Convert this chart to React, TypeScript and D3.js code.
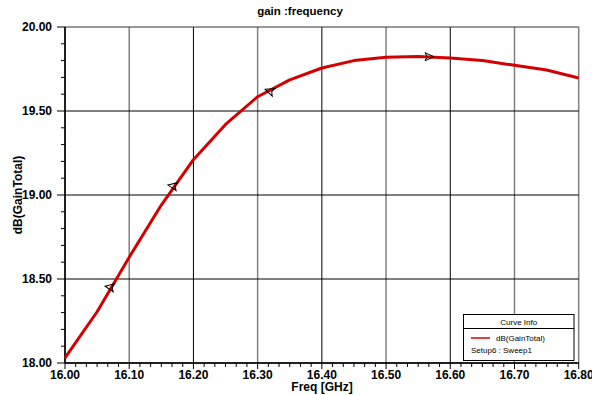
import React from "react";
import * as d3 from "d3";

// Swept gain curve: dB(GainTotal) vs frequency
const freqGHz = [16.0, 16.05, 16.1, 16.15, 16.2, 16.25, 16.3, 16.35, 16.4, 16.45, 16.5, 16.55, 16.6, 16.65, 16.7, 16.75, 16.8];
const gainDb = [18.03, 18.305, 18.63, 18.94, 19.21, 19.42, 19.585, 19.685, 19.756, 19.8, 19.82, 19.825, 19.815, 19.8, 19.772, 19.744, 19.696];

// Curve markers (frequency, value, direction in degrees)
const markerFreq = [16.07, 16.168, 16.319, 16.567];
const markerGain = [18.452, 19.054, 19.619, 19.823];
const markerAngle = [190, 190, 200, 0];

const xTicks = [16.0, 16.1, 16.2, 16.3, 16.4, 16.5, 16.6, 16.7, 16.8];
const yTicks = [18.0, 18.5, 19.0, 19.5, 20.0];

const W = 592;
const H = 395;
const left = 65;
const right = 578.7;
const top = 27;
const bottom = 363;

export default function App() {
  const x = d3.scaleLinear().domain([16.0, 16.8]).range([left, right]);
  const y = d3.scaleLinear().domain([18.0, 20.0]).range([bottom, top]);

  const line = d3
    .line<number>()
    .x((_, i) => x(freqGHz[i]))
    .y((d) => y(d))
    .curve(d3.curveLinear);

  const xMinor: number[] = [];
  for (let i = 0; i < xTicks.length - 1; i++) {
    for (let k = 1; k < 6; k++) xMinor.push(xTicks[i] + (k * 0.1) / 6);
  }
  const yMinor: number[] = [];
  for (let i = 0; i < yTicks.length - 1; i++) {
    for (let k = 1; k < 5; k++) yMinor.push(yTicks[i] + (k * 0.5) / 5);
  }

  const font = "'Liberation Sans', Arial, Helvetica, sans-serif";

  return (
    <svg
      width={W}
      height={H}
      style={{ position: "absolute", left: 0, top: 0, background: "#fff" }}
      fontFamily={font}
    >
      <rect x={0} y={0} width={W} height={H} fill="#fff" />

      {/* vertical grid lines */}
      {xTicks.map((t, i) => (
        <line
          key={"gx" + i}
          x1={x(t)}
          x2={x(t)}
          y1={top}
          y2={bottom}
          stroke={i === 0 ? "#000" : i % 2 === 1 || i === xTicks.length - 1 ? "#808080" : "#000"}
          strokeWidth={i % 2 === 1 || i === xTicks.length - 1 ? 1.5 : 1}
        />
      ))}
      {/* horizontal grid lines */}
      {yTicks.map((t, i) => (
        <line key={"gy" + i} x1={left} x2={right} y1={y(t)} y2={y(t)} stroke={i === yTicks.length - 1 ? "#333" : "#000"} strokeWidth={1} />
      ))}

      {/* axes */}
      <line x1={left} x2={left} y1={top} y2={bottom} stroke="#000" strokeWidth={1.5} />
      <line x1={left} x2={right} y1={bottom} y2={bottom} stroke="#000" strokeWidth={1.5} />

      {/* y ticks */}
      {yTicks.map((t, i) => (
        <line key={"ytm" + i} x1={left - 8} x2={left} y1={y(t)} y2={y(t)} stroke="#000" strokeWidth={1} />
      ))}
      {yMinor.map((t, i) => (
        <line key={"ytn" + i} x1={left - 4} x2={left} y1={y(t)} y2={y(t)} stroke="#000" strokeWidth={1} />
      ))}
      {yTicks.map((t, i) => (
        <text key={"ytl" + i} x={52} y={y(t)} dy="0.36em" textAnchor="end" fontSize={12} fontWeight="bold" fill="#000">
          {t.toFixed(2)}
        </text>
      ))}

      {/* x ticks */}
      {xTicks.map((t, i) => (
        <line key={"xtm" + i} x1={x(t)} x2={x(t)} y1={bottom} y2={bottom + 6} stroke="#000" strokeWidth={1} />
      ))}
      {xMinor.map((t, i) => (
        <line key={"xtn" + i} x1={x(t)} x2={x(t)} y1={bottom} y2={bottom + 4} stroke="#000" strokeWidth={1} />
      ))}
      {xTicks.map((t, i) => (
        <text key={"xtl" + i} x={x(t)} y={379} textAnchor="middle" fontSize={12} fontWeight="bold" fill="#000">
          {t.toFixed(2)}
        </text>
      ))}

      {/* titles */}
      <text x={300} y={15} textAnchor="middle" fontSize={11.5} fontWeight="bold" fill="#000">
        gain :frequency
      </text>
      <text x={322} y={390.5} textAnchor="middle" fontSize={12} fontWeight="bold" fill="#000">
        Freq [GHz]
      </text>
      <text
        transform={`translate(21.5, ${(top + bottom) / 2}) rotate(-90)`}
        textAnchor="middle"
        fontSize={12}
        fontWeight="bold"
        fill="#000"
      >
        dB(GainTotal)
      </text>

      {/* curve */}
      <path d={line(gainDb) || ""} fill="none" stroke="#d40000" strokeWidth={3} strokeLinejoin="round" />

      {/* markers */}
      {markerFreq.map((f, i) => (
        <polygon
          key={"mk" + i}
          points="-5,0 4,-4 2,0 4,4"
          transform={`translate(${x(f)}, ${y(markerGain[i])}) rotate(${markerAngle[i] + 180})`}
          fill="none"
          stroke="#000"
          strokeWidth={1}
        />
      ))}

      {/* legend */}
      <g>
        <rect x={463.5} y={314.5} width={110.5} height={46} fill="#fff" stroke="#000" strokeWidth={1} />
        <line x1={463.5} x2={574} y1={328.5} y2={328.5} stroke="#000" strokeWidth={1} />
        <text x={518.7} y={324.5} textAnchor="middle" fontSize={8} fill="#000">
          Curve Info
        </text>
        <line x1={471} x2={490} y1={338} y2={338} stroke="#d40000" strokeWidth={1.5} />
        <text x={496} y={341} fontSize={8} fill="#000">
          dB(GainTotal)
        </text>
        <text x={471} y={353} fontSize={8} fill="#000">
          Setup6 : Sweep1
        </text>
      </g>
    </svg>
  );
}
